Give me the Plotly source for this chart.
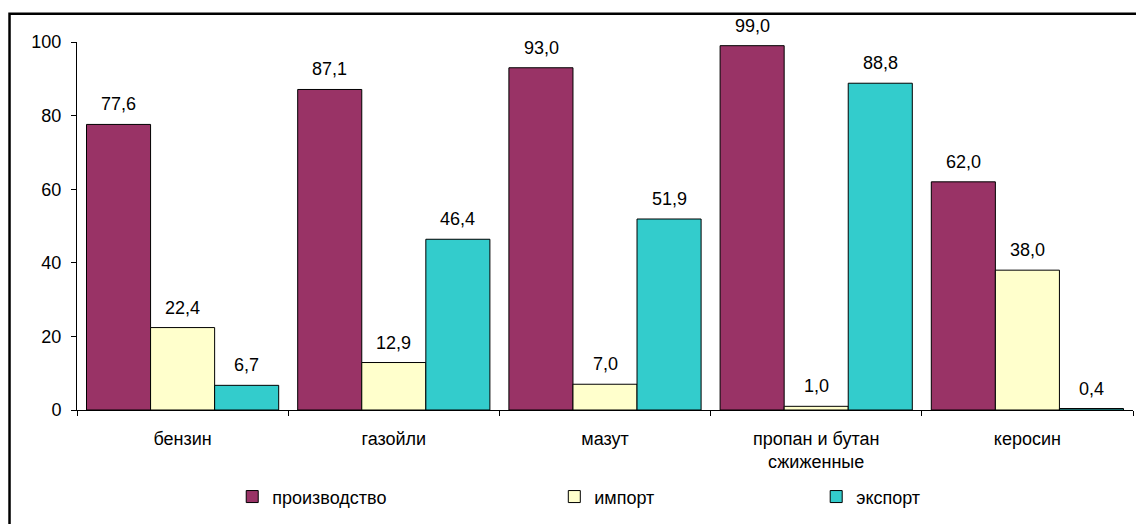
import plotly.graph_objects as go

categories = ["бензин", "газойли", "мазут", "пропан и бутан<br>сжиженные", "керосин"]
production = [77.6, 87.1, 93.0, 99.0, 62.0]
imports = [22.4, 12.9, 7.0, 1.0, 38.0]
exports = [6.7, 46.4, 51.9, 88.8, 0.4]
series_names = ["производство", "импорт", "экспорт"]
series_colors = ["#993366", "#FFFFCC", "#33CCCC"]
y_ticks = [0, 20, 40, 60, 80, 100]

FONT = "Liberation Sans, Arial, sans-serif"
FS = 18

fig = go.Figure()
series = [production, imports, exports]
legends = ["legend", "legend2", "legend3"]
for vals, name, col, lg in zip(series, series_names, series_colors, legends):
    fig.add_trace(go.Bar(
        x=categories, y=vals, name=name,
        marker=dict(color=col, line=dict(color="black", width=1)),
        legend=lg,
    ))

# value labels
shifts = [-64, 0, 64]
for vals, dx in zip(series, shifts):
    for c, v in zip(categories, vals):
        fig.add_annotation(
            x=c, y=v, xref="x", yref="y",
            text=f"{v:.1f}".replace(".", ","),
            showarrow=False, xshift=dx, yshift=8, yanchor="bottom",
            font=dict(family=FONT, size=FS, color="black"),
        )

# outer border
fig.add_shape(type="rect", xref="paper", yref="paper",
              x0=-0.0639, x1=1.03, y0=-0.36, y1=1.077,
              line=dict(color="black", width=2.5), fillcolor="rgba(0,0,0,0)", layer="below")

leg_common = dict(orientation="h", yanchor="middle", xanchor="left",
                  font=dict(family=FONT, size=FS, color="black"),
                  bgcolor="rgba(0,0,0,0)", itemclick=False, itemdoubleclick=False)
fig.update_layout(
    width=1144, height=524,
    margin=dict(l=69, r=19, t=34, b=122),
    paper_bgcolor="white", plot_bgcolor="white",
    barmode="group", bargap=0.09, bargroupgap=0,
    font=dict(family=FONT, size=FS, color="black"),
    showlegend=True,
    legend=dict(x=0.147, y=-0.236, **leg_common),
    legend2=dict(x=0.452, y=-0.236, **leg_common),
    legend3=dict(x=0.700, y=-0.236, **leg_common),
)
fig.update_xaxes(
    type="category", showline=True, linecolor="black", linewidth=1,
    ticks="outside", ticklen=5, tickcolor="black", tickson="boundaries",
    showgrid=False, ticklabelstandoff=12,
    tickfont=dict(family=FONT, size=FS, color="black"),
)
fig.update_yaxes(
    range=[0, 100], tickvals=y_ticks, showline=True, linecolor="black", linewidth=1,
    ticks="outside", ticklen=5, tickcolor="black", showgrid=False, zeroline=False,
    ticklabelstandoff=6,
    tickfont=dict(family=FONT, size=FS, color="black"),
)

fig.write_html("out.html")
